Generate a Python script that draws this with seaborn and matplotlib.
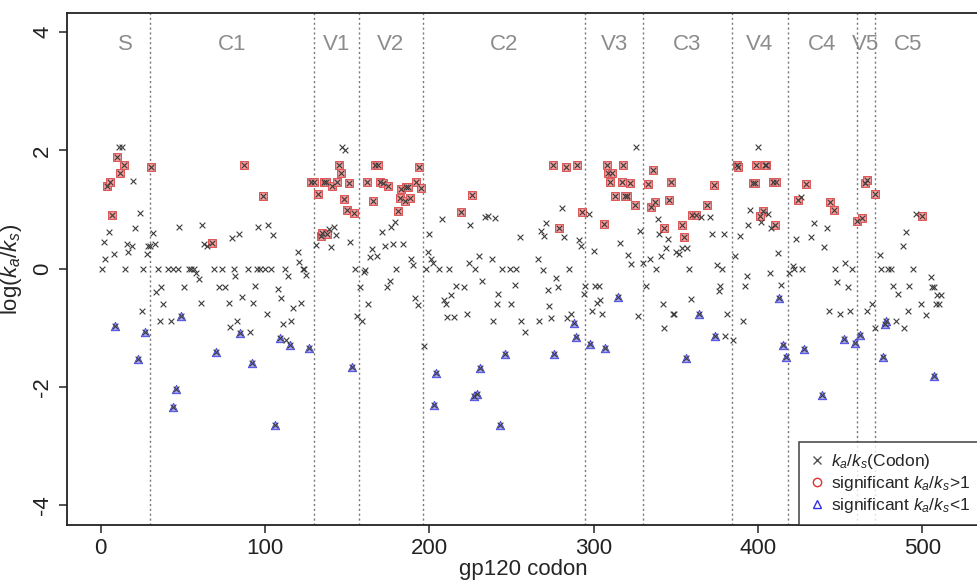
import numpy as np
import pandas as pd
import matplotlib
matplotlib.use("Agg")
import matplotlib.pyplot as plt
from matplotlib.lines import Line2D
import seaborn as sns

# ==========================================
# 1. DATA
# ==========================================
# non-significant codons
codon_ns = [11, 13, 20, 24, 5, 21, 2, 16, 19, 17, 8, 3, 28, 29, 30, 33, 32,
            1, 15, 26, 35, 41, 44, 47, 54, 55, 57, 69, 74, 81, 90, 95, 97, 100, 104, 112, 123, 124,
            48, 62, 63, 65, 80, 84, 96, 102, 105, 120, 121, 125, 131, 58, 60, 82, 114,
            34, 37, 51, 72, 76, 94, 108, 110, 86,
            38, 61, 78, 93, 25, 36, 43, 83, 79, 91, 101, 117, 122, 111, 116, 113,
            147, 149, 139, 142, 143, 140, 152, 155, 160, 161, 158, 171, 177, 179, 165, 164, 168,
            173, 178, 184, 189, 190, 180, 176, 174, 191,
            208, 200, 199, 201, 202, 198, 206, 212, 216, 221, 213, 225, 230, 224, 228, 232,
            234, 236, 240, 238, 244, 249, 253, 255, 252, 242, 266, 269, 268, 271, 270, 277, 272,
            156, 159, 163, 193, 197, 209, 210, 211, 215, 223, 241, 250, 239, 256, 267, 258, 278, 273, 274,
            281, 282, 291, 292, 285, 295, 294, 301, 303, 297, 326, 316, 300, 321, 323, 328, 330, 332,
            339, 340, 341, 334, 338, 345, 344, 350, 352, 354, 357, 358, 365, 371, 372, 379, 375, 378,
            377, 376, 400, 395, 406, 402, 408, 394, 389, 412, 386, 407, 393, 392, 414,
            286, 284, 299, 302, 304, 305, 327, 342, 343, 349, 348, 359, 380, 381, 385, 391,
            419, 421, 422, 426, 434, 442, 423, 432, 440, 427, 447, 457, 453, 448, 455, 443, 450, 456,
            466, 469, 474, 475, 479, 481, 494, 496, 490, 488, 482, 485, 492,
            505, 506, 507, 509, 511, 508, 510, 499, 502, 491, 471, 484, 489]
val_ns = [2.06, 2.06, 1.48, 0.94, 0.62, 0.69, 0.45, 0.42, 0.39, 0.29, 0.24, 0.16, 0.25, 0.39, 0.39, 0.41, 0.60,
          0, 0, 0, 0, 0, 0, 0, 0, 0, 0, 0, 0, 0, 0, 0, 0, 0, 0, 0, 0, 0,
          0.70, 0.74, 0.42, 0.38, 0.52, 0.59, 0.71, 0.74, 0.57, 0.29, 0.11, -0.10, 0.40, -0.07, -0.18, -0.13, -0.13,
          -0.40, -0.31, -0.31, -0.31, -0.31, -0.30, -0.35, -0.50, -0.47,
          -0.59, -0.58, -0.58, -0.58, -0.71, -0.89, -0.89, -0.89, -0.99, -1.07, -0.77, -0.66, -0.58, -0.94, -0.89, -1.20,
          2.06, 2.00, 0.67, 0.70, 0.57, 0.36, 0.45, 0.0, -0.06, -0.03, -0.31, 0.62, 0.71, 0.79, 0.34, 0.20, 0.22,
          0.39, 0.42, 0.42, 0.17, 0.06, 0.0, -0.20, -0.31, -0.49,
          0.84, 0.59, 0.29, 0.16, 0.10, 0.0, 0.0, 0.0, -0.30, -0.31, -0.44, 0.73, 0.22, 0.09, -0.01, -0.20,
          0.87, 0.89, 0.86, 0.16, 0.0, 0.0, 0.0, 0.53, -0.27, -0.43, 0.16, -0.02, 0.64, 0.77, 0.56, -0.15, -0.36,
          -0.80, -0.89, -0.59, -0.61, -1.30, -0.53, -0.59, -0.81, -0.81, -0.76, -0.59, -0.59, -0.89, -0.89, -0.89, -1.07, -0.31, -0.63, -0.84,
          1.02, 0.54, 0.49, 0.39, 0.0, -0.30, -0.43, -0.30, -0.30, 0.92, 2.06, 0.44, 0.30, 0.23, 0.08, 0.64, 0.10, -0.30,
          0.84, 0.59, 0.21, 0.17, 0.0, 0.50, 0.35, 0.29, 0.24, 0.35, 0.35, 0.0, 0.88, 0.88, 0.58, 0.59, 0.07, 0.0,
          -0.30, -0.37, 2.06, 1.00, 0.92, 0.79, 0.68, 0.73, 0.56, 0.26, 0.22, -0.08, -0.12, -0.30, -0.27,
          -0.77, -0.83, -0.72, -0.58, -0.53, -0.77, -0.80, -0.59, -1.01, -0.76, -0.76, -0.51, -1.14, -0.76, -1.20, -0.89,
          -0.07, 0.04, 0.0, 1.21, 0.77, 0.68, 0.51, 0.54, 0.37, 0.0, 0.0, 0.0, 0.10, -0.22, -0.31, -0.72, -0.77, -0.72,
          -0.71, -0.59, 0.23, 0.0, 0.0, 0.0, 0.0, 0.92, 0.62, 0.39, -0.30, -0.42, -0.30,
          -0.14, -0.31, -0.31, -0.44, -0.44, -0.59, -0.59, -0.59, -0.79, -0.72, -1.00, -0.89, -1.00]

# significant ka/ks > 1
codon_pos = [10, 14, 12, 31, 4, 6, 7, 68, 87, 99, 128, 130, 132, 134, 135, 138, 136, 137,
             145, 146, 141, 144, 151, 148, 150, 154, 162, 167, 169, 166, 170, 172, 175,
             183, 186, 187, 182, 185, 188, 181, 192, 194, 195, 219, 226,
             275, 279, 283, 290, 293, 306, 308, 318, 309, 311, 310, 317, 322, 313, 320, 319, 325,
             333, 336, 335, 337, 346, 347, 343, 354, 355, 360, 362, 369, 373,
             387, 388, 399, 405, 404, 397, 398, 409, 411, 403, 401, 410,
             429, 424, 444, 446, 460, 463, 465, 466, 471, 500]
val_pos = [1.89, 1.76, 1.62, 1.71, 1.39, 1.46, 0.90, 0.43, 1.75, 1.22, 1.46, 1.46, 1.26, 0.56, 0.61, 0.58, 1.46, 1.46,
           1.76, 1.62, 1.39, 1.46, 1.44, 1.18, 1.00, 0.94, 1.46, 1.76, 1.76, 1.15, 1.46, 1.44, 1.39,
           1.35, 1.38, 1.38, 1.20, 1.15, 1.20, 0.97, 1.46, 1.71, 1.36, 0.95, 1.24,
           1.76, 0.68, 1.72, 1.76, 0.95, 0.75, 1.76, 1.76, 1.62, 1.62, 1.46, 1.46, 1.45, 1.23, 1.23, 1.23, 1.08,
           1.43, 1.67, 1.04, 1.12, 1.16, 1.46, 0.68, 0.73, 0.54, 0.90, 0.90, 1.07, 1.41,
           1.76, 1.71, 1.76, 1.76, 1.76, 1.45, 1.45, 1.46, 1.46, 0.98, 0.89, 0.74,
           1.43, 1.16, 1.12, 0.99, 0.80, 0.85, 1.45, 1.50, 1.26, 0.89]

# significant ka/ks < 1
codon_neg = [9, 27, 23, 49, 46, 44, 70, 85, 92, 106, 109, 115, 127, 153,
             204, 203, 231, 227, 229, 246, 243, 276, 288, 289, 298, 307, 315,
             356, 364, 374, 413, 415, 417, 428, 439, 452, 459, 462, 477, 478, 476, 507]
val_neg = [-0.97, -1.07, -1.52, -0.80, -2.04, -2.34, -1.41, -1.09, -1.60, -2.64, -1.17, -1.29, -1.34, -1.66,
           -1.76, -2.30, -1.68, -2.15, -2.12, -1.44, -2.64, -1.44, -0.91, -1.16, -1.27, -1.34, -0.48,
           -1.51, -0.77, -1.14, -0.49, -1.29, -1.50, -1.36, -2.13, -1.18, -1.25, -1.12, -0.93, -0.89, -1.49, -1.82]

# gp120 region boundaries (HXB2 numbering) and names
region_bounds = [0, 30, 130, 157, 196, 295, 330, 384, 418, 460, 471, 511]
region_names = ["S", "C1", "V1", "V2", "C2", "V3", "C3", "V4", "C4", "V5", "C5"]

x_ticks = [0, 100, 200, 300, 400, 500]
y_ticks = [-4, -2, 0, 2, 4]

# ==========================================
# 2. BUILD TABLE
# ==========================================
df = pd.concat([
    pd.DataFrame({"codon": codon_ns, "logkaks": val_ns, "group": "ns"}),
    pd.DataFrame({"codon": codon_pos, "logkaks": val_pos, "group": "pos"}),
    pd.DataFrame({"codon": codon_neg, "logkaks": val_neg, "group": "neg"}),
], ignore_index=True)

# ==========================================
# 3. PLOT
# ==========================================
sns.set_style("ticks")
plt.rcParams["font.family"] = ["Liberation Sans", "DejaVu Sans"]
plt.rcParams["mathtext.fontset"] = "custom"
plt.rcParams["mathtext.rm"] = "Liberation Sans"
plt.rcParams["mathtext.it"] = "Liberation Sans:italic"

fig = plt.figure(figsize=(9.78, 5.82), dpi=100)
ax = fig.add_axes([66.5 / 978, (582 - 525) / 582, (980 - 66.5) / 978, (525 - 13) / 582])

# significant points underneath the crosses
sns.scatterplot(data=df[df.group == "pos"], x="codon", y="logkaks", marker="s", s=30,
                color="#f29a9a", edgecolor="#e05555", linewidth=0.7, ax=ax, zorder=2, legend=False)
sns.scatterplot(data=df[df.group == "neg"], x="codon", y="logkaks", marker="^", s=36,
                color="#a0a0f2", edgecolor="#4a4ae0", linewidth=0.7, ax=ax, zorder=2, legend=False)
# every codon gets a cross
sns.scatterplot(data=df, x="codon", y="logkaks", marker="x", s=17, color="#3c3c3c",
                linewidth=0.8, ax=ax, zorder=3, legend=False)

# region separators and names
for b in region_bounds[1:-1]:
    ax.axvline(b, color="#777777", linestyle=(0, (1.5, 2)), linewidth=1.0, zorder=1)
for i, name in enumerate(region_names):
    mid = (region_bounds[i] + region_bounds[i + 1]) / 2
    ax.text(mid, 3.78, name, ha="center", va="center", fontsize=16, color="#8c8c8c")

ax.set_xlim(-20.7, 535)
ax.set_ylim(-4.33, 4.32)
ax.set_xticks(x_ticks)
ax.set_yticks(y_ticks)
ax.set_yticklabels([str(t) for t in y_ticks], rotation=90, va="center")
ax.tick_params(axis="both", direction="out", length=6, width=1.1, labelsize=16, colors="#222222")
ax.set_xlabel("gp120 codon", fontsize=16, labelpad=0)
ax.set_ylabel(r"log($k_a$/$k_s$)", fontsize=16, labelpad=6)
for sp in ax.spines.values():
    sp.set_linewidth(1.3)
    sp.set_color("#222222")

handles = [
    Line2D([], [], marker="x", linestyle="none", color="#555555", markersize=6, markeredgewidth=1),
    Line2D([], [], marker="o", linestyle="none", markerfacecolor="none", markeredgecolor="#e03030",
           markersize=6, markeredgewidth=1),
    Line2D([], [], marker="^", linestyle="none", markerfacecolor="none", markeredgecolor="#3030e0",
           markersize=6, markeredgewidth=1),
]
labels = [r"$k_a$/$k_s$(Codon)", r"significant $k_a$/$k_s$>1", r"significant $k_a$/$k_s$<1"]
leg = ax.legend(handles, labels, loc="lower right", bbox_to_anchor=(1.0, 0.0), borderaxespad=0,
                fontsize=12.5, frameon=True, fancybox=False, handlelength=0.8, handletextpad=0.4,
                labelspacing=0.15, borderpad=0.6)
leg.get_frame().set_edgecolor("#222222")
leg.get_frame().set_linewidth(1.2)

plt.savefig("out.png", dpi=100, facecolor="white")
plt.close()
